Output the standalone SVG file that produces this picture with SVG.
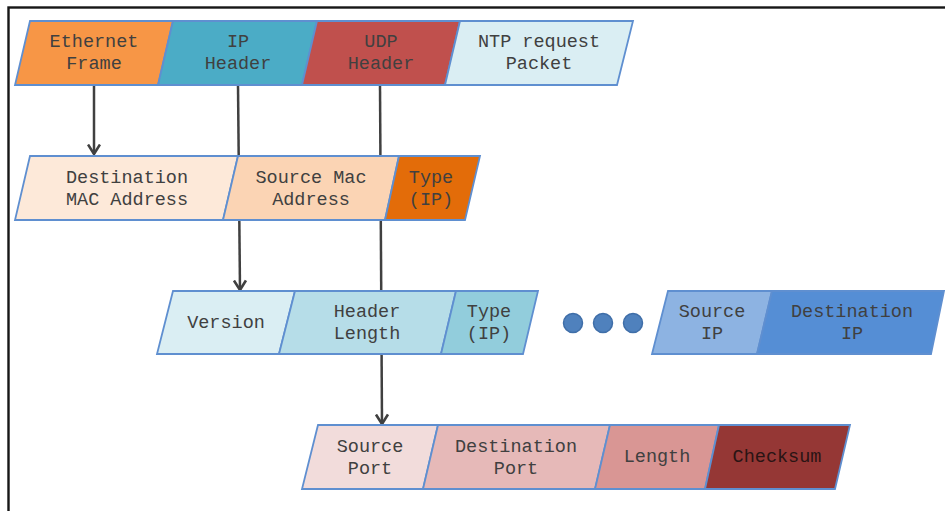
<svg xmlns="http://www.w3.org/2000/svg" width="945" height="511" viewBox="0 0 945 511">
  <defs>
    <style>
      .seg { stroke: #5f8fd0; stroke-width: 1.8; stroke-linejoin: miter; }
      .lbl { font-family: "Liberation Mono", "Courier New", monospace; font-size: 18.5px; fill: #404040; text-anchor: middle; }
      .dark { fill: #2a1414; }
      .wire { stroke: #404040; stroke-width: 2.5; fill: none; }
      .dot { fill: #4f81bd; stroke: #3f6ea8; stroke-width: 1.5; }
    </style>
    <marker id="arrow" markerUnits="userSpaceOnUse" viewBox="0 0 12 14" markerWidth="12" markerHeight="14" refX="10.5" refY="7" orient="auto">
      <path d="M1,1 L10.5,7 L1,13" fill="none" stroke="#404040" stroke-width="2.6"/>
    </marker>
  </defs>

  <!-- outer frame -->
  <rect x="8.5" y="7.5" width="960" height="530" fill="#ffffff" stroke="#161616" stroke-width="2.4"/>

  <!-- connectors (drawn beneath the field rows) -->
  <g id="connectors">
    <line class="wire" x1="94" y1="85" x2="94" y2="154" marker-end="url(#arrow)"/>
    <line class="wire" x1="238" y1="85" x2="240" y2="290" marker-end="url(#arrow)"/>
    <line class="wire" x1="380" y1="85" x2="382" y2="424" marker-end="url(#arrow)"/>
  </g>

  <!-- row 1: encapsulation layers -->
  <g id="ethernet-frame">
    <polygon class="seg" points="30,21 173,21 158,85 15,85" fill="#f79646"/>
    <text class="lbl" x="94" y="47">Ethernet</text>
    <text class="lbl" x="94" y="69">Frame</text>
  </g>
  <g id="ip-header">
    <polygon class="seg" points="173,21 317,21 302,85 158,85" fill="#4bacc6"/>
    <text class="lbl" x="238" y="47">IP</text>
    <text class="lbl" x="238" y="69">Header</text>
  </g>
  <g id="udp-header">
    <polygon class="seg" points="317,21 460,21 445,85 302,85" fill="#c0504d"/>
    <text class="lbl" x="381" y="47">UDP</text>
    <text class="lbl" x="381" y="69">Header</text>
  </g>
  <g id="ntp-packet">
    <polygon class="seg" points="460,21 633,21 617,85 445,85" fill="#daeef3"/>
    <text class="lbl" x="539" y="47">NTP request</text>
    <text class="lbl" x="539" y="69">Packet</text>
  </g>

  <!-- row 2: Ethernet frame fields -->
  <g id="dest-mac">
    <polygon class="seg" points="30,156 238,156 223,220 15,220" fill="#fde9d9"/>
    <text class="lbl" x="127" y="183">Destination</text>
    <text class="lbl" x="127" y="205">MAC Address</text>
  </g>
  <g id="src-mac">
    <polygon class="seg" points="238,156 399,156 385,220 223,220" fill="#fbd4b4"/>
    <text class="lbl" x="311" y="183">Source Mac</text>
    <text class="lbl" x="311" y="205">Address</text>
  </g>
  <g id="eth-type">
    <polygon class="seg" points="399,156 480,156 465,220 385,220" fill="#e36c09"/>
    <text class="lbl" x="431" y="183" fill="#3a2010">Type</text>
    <text class="lbl" x="431" y="205" fill="#3a2010">(IP)</text>
  </g>

  <!-- row 3: IP header fields -->
  <g id="ip-version">
    <polygon class="seg" points="173,291 295,291 279,354 157,354" fill="#daeef3"/>
    <text class="lbl" x="226" y="328">Version</text>
  </g>
  <g id="ip-header-length">
    <polygon class="seg" points="295,291 456,291 441,354 279,354" fill="#b6dde8"/>
    <text class="lbl" x="367" y="317">Header</text>
    <text class="lbl" x="367" y="339">Length</text>
  </g>
  <g id="ip-type">
    <polygon class="seg" points="456,291 538,291 523,354 441,354" fill="#92cddc"/>
    <text class="lbl" x="489" y="317">Type</text>
    <text class="lbl" x="489" y="339">(IP)</text>
  </g>
  <g id="ellipsis">
    <circle class="dot" cx="573" cy="323" r="9.5"/>
    <circle class="dot" cx="603" cy="323" r="9.5"/>
    <circle class="dot" cx="633" cy="323" r="9.5"/>
  </g>
  <g id="src-ip">
    <polygon class="seg" points="668,291 772,291 757,354 652,354" fill="#8db3e2"/>
    <text class="lbl" x="712" y="317">Source</text>
    <text class="lbl" x="712" y="339">IP</text>
  </g>
  <g id="dest-ip">
    <polygon class="seg" points="772,291 944,291 931,354 757,354" fill="#558ed5"/>
    <text class="lbl" x="852" y="317">Destination</text>
    <text class="lbl" x="852" y="339">IP</text>
  </g>

  <!-- row 4: UDP header fields -->
  <g id="src-port">
    <polygon class="seg" points="318,425 438,425 423,489 302,489" fill="#f2dcdb"/>
    <text class="lbl" x="370" y="452">Source</text>
    <text class="lbl" x="370" y="474">Port</text>
  </g>
  <g id="dest-port">
    <polygon class="seg" points="438,425 610,425 595,489 423,489" fill="#e6b9b8"/>
    <text class="lbl" x="516" y="452">Destination</text>
    <text class="lbl" x="516" y="474">Port</text>
  </g>
  <g id="udp-length">
    <polygon class="seg" points="610,425 719,425 705,489 595,489" fill="#d99694"/>
    <text class="lbl" x="657" y="462">Length</text>
  </g>
  <g id="udp-checksum">
    <polygon class="seg" points="719,425 850,425 835,489 705,489" fill="#953735"/>
    <text class="lbl dark" x="777" y="462">Checksum</text>
  </g>
</svg>
